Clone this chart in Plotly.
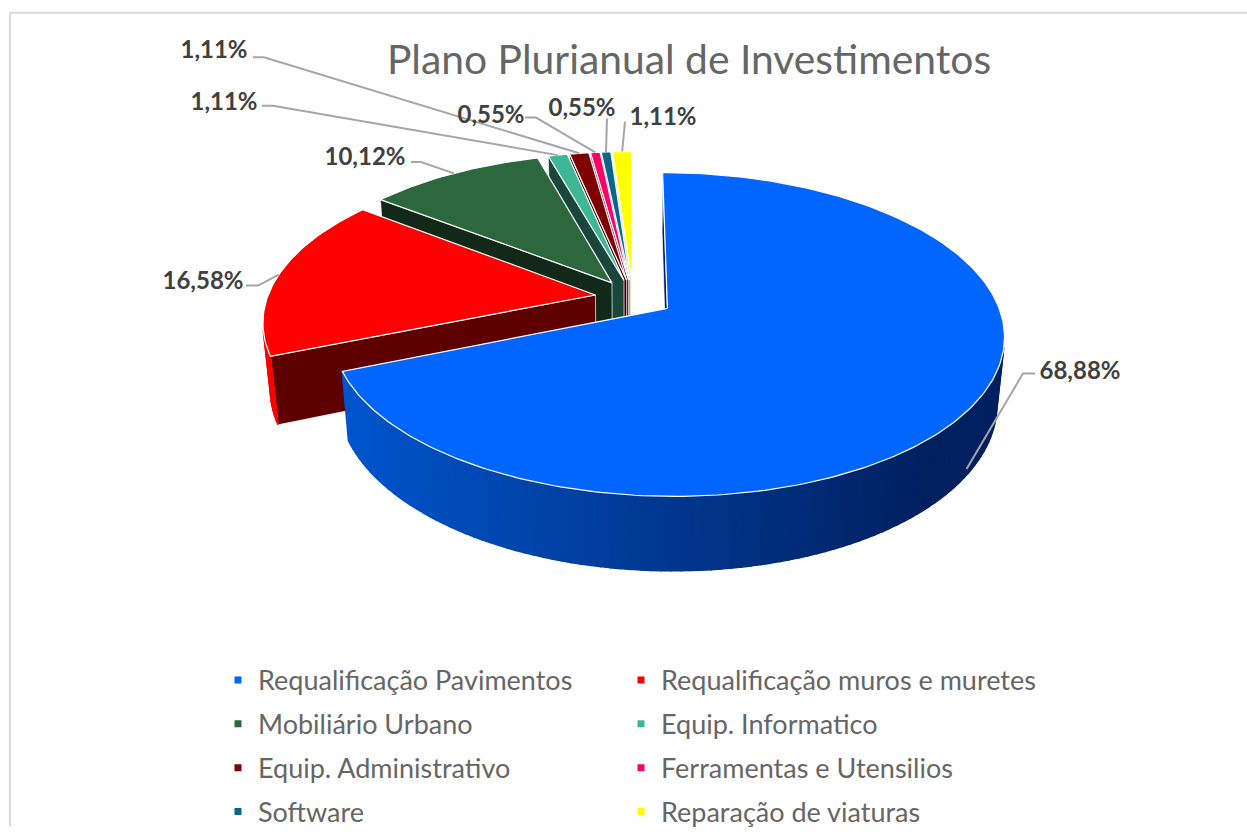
import math
import plotly.graph_objects as go

# ---- data ----
categories = ["Requalificação Pavimentos", "Requalificação muros e muretes", "Mobiliário Urbano",
              "Equip. Informatico", "Equip. Administrativo", "Ferramentas e Utensilios",
              "Software", "Reparação de viaturas"]
values = [68.88, 16.58, 10.12, 1.11, 1.11, 0.55, 0.55, 1.11]
colors = ["#0066FF", "#FF0000", "#2D683D", "#3DB795", "#7F0000", "#FF0066", "#0B6688", "#FFFF00"]
cut_colors = ["#002060", "#5F0000", "#122818", "#19473C", "#3A0000", "#7F0033", "#053344", "#DDDDAA"]
explode = [0.125, 0.116, 0.116, 0.116, 0.116, 0.116, 0.116, 0.116]

title = "Plano Plurianual de Investimentos"

# ---- view (pixels of the 1247x836 canvas) ----
CX, CY, A, B, K, H, M = 633, 301, 328, 156, 0.16, 68, 0.02
label_xy = [(1080, 378), (203, 286), (365, 161), (224, 105), (214, 53), (491, 118), (582, 111), (663, 120)]
stub = [[(1035, 378), (1023, 378)], [(246, 289), (258, 289)], [(411, 164), (421, 164)],
        [(262, 107), (273, 107)], [(253, 58), (264, 58)], [(525, 119), (536, 119)],
        [(607, 120)], [(625, 123)]]


def project(theta_deg, r, e, mid_deg, z=0.0):
    t = math.radians(theta_deg)
    m = math.radians(mid_deg)
    u = r * math.sin(t) + e * math.sin(m)
    v = -r * math.cos(t) - e * math.cos(m)
    w = 1 - K * v + M * z
    return CX + A * u / w, CY + (B * v + H * z) / w


def area(p):
    s = 0.0
    for i in range(len(p)):
        x0, y0 = p[i]
        x1, y1 = p[(i + 1) % len(p)]
        s += x0 * y1 - x1 * y0
    return s / 2


def poly(fig, pts, fill, line=None, width=1):
    fig.add_trace(go.Scatter(x=[p[0] for p in pts] + [pts[0][0]], y=[p[1] for p in pts] + [pts[0][1]],
                             mode="lines", fill="toself", fillcolor=fill,
                             line=dict(color=line or fill, width=width),
                             hoverinfo="skip", showlegend=False))


def blue_shade(x):
    f = min(1, max(0, (x - 345) / (930 - 345)))
    return "rgb(0,%d,%d)" % (85 + (32 - 85) * f, 204 + (96 - 204) * f)


fig = go.Figure()
total = sum(values)
starts, acc = [], 0.0
for v in values:
    starts.append(acc)
    acc += v * 360 / total

for i in reversed(range(len(values))):
    a0 = starts[i]
    a1 = a0 + values[i] * 360 / total
    mid = (a0 + a1) / 2
    e = explode[i]
    P = lambda th, r=1.0, z=0.0: project(th, r, e, mid, z)
    # cut faces
    for th, sgn in ((a0, 1), (a1, -1)):
        q = [P(th, 0), P(th, 1), P(th, 1, 1), P(th, 0, 1)]
        if area(q) * sgn < 0:
            poly(fig, q, cut_colors[i], "rgba(255,255,255,0.7)")
    # outer wall
    n = max(2, int((a1 - a0) / 1.5))
    for j in range(n):
        t0 = a0 + (a1 - a0) * j / n
        t1 = a0 + (a1 - a0) * (j + 1) / n
        q = [P(t0), P(t1), P(t1, 1, 1), P(t0, 1, 1)]
        if area(q) < 0:
            col = blue_shade((q[0][0] + q[1][0]) / 2) if i == 0 else (colors[i] if i == 1 else cut_colors[i])
            poly(fig, q, col, None, 1.5)
    # top face
    m = max(2, int(a1 - a0))
    top = [P(0, 0)] + [P(a0 + (a1 - a0) * j / m) for j in range(m + 1)]
    poly(fig, top, colors[i], "#FFFFFF", 1.2)

# leader lines and labels
for i, val in enumerate(values):
    a0 = starts[i]
    mid = a0 + val * 180 / total
    end = project(mid, 1, explode[i], mid, 0.9 if i == 0 else 0)
    pts = stub[i] + [end]
    fig.add_trace(go.Scatter(x=[p[0] for p in pts], y=[p[1] for p in pts], mode="lines",
                             line=dict(color="#A6A6A6", width=2), hoverinfo="skip", showlegend=False))
    fig.add_trace(go.Scatter(x=[label_xy[i][0]], y=[label_xy[i][1]], mode="text",
                             text=[("%.2f" % val).replace(".", ",") + "%"],
                             textposition="middle center",
                             textfont=dict(family="Lato", size=24, color="#404040", weight="bold"),
                             hoverinfo="skip", showlegend=False))

# legend entries, two columns
for i, name in enumerate(categories):
    fig.add_trace(go.Scatter(x=[None], y=[None], mode="markers", name=name,
                             marker=dict(symbol="square", size=7, color=colors[i]),
                             legendgroup=name, legend="legend" if i % 2 == 0 else "legend2"))

legend_style = dict(font=dict(family="Lato", size=27, color="#666666"), tracegroupgap=5.8,
                    bgcolor="rgba(0,0,0,0)", xanchor="left", yanchor="top", y=0.206)

fig.update_layout(
    width=1247, height=836, margin=dict(l=0, r=0, t=0, b=0),
    paper_bgcolor="#FFFFFF", plot_bgcolor="#FFFFFF",
    title=dict(text=title, x=689 / 1247, xanchor="center", y=1 - 60 / 836, yanchor="middle",
               font=dict(family="Lato", size=40.8, color="#666666")),
    xaxis=dict(range=[0, 1247], visible=False, domain=[0, 1]),
    yaxis=dict(range=[836, 0], visible=False, domain=[0, 1]),
    legend=dict(x=218 / 1247, **legend_style),
    legend2=dict(x=621 / 1247, **legend_style),
    hovermode=False,
    shapes=[dict(type="line", xref="x", yref="y", x0=10, y0=13, x1=1247, y1=13, line=dict(color="#D9D9D9", width=2)),
            dict(type="line", xref="x", yref="y", x0=10, y0=13, x1=10, y1=836, line=dict(color="#D9D9D9", width=2))],
)
fig.write_html("out.html", config=dict(displayModeBar=False),
               post_script="document.body.style.margin='0';document.documentElement.style.overflow='hidden';")
